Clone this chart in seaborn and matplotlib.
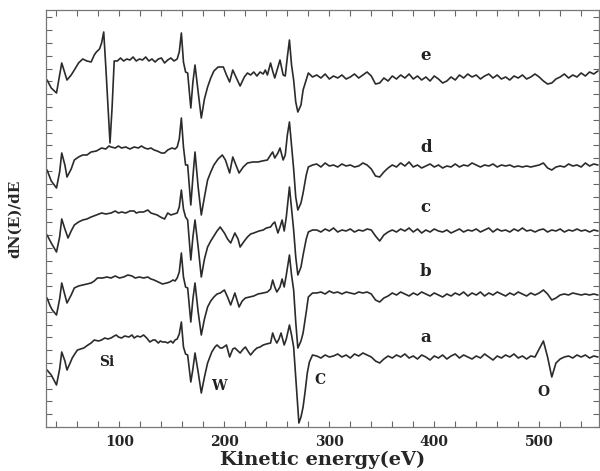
import matplotlib
matplotlib.use("Agg")
import matplotlib.pyplot as plt
import numpy as np
import pandas as pd
import seaborn as sns
from matplotlib.ticker import MultipleLocator, NullFormatter

# Auger spectra dN(E)/dE, arbitrary units
# low-energy part (Si, W, C region) per spectrum: energy (eV), signal
e_E = [31, 35, 40, 45, 50, 54, 57, 61, 65, 69, 73, 76, 78, 81, 83, 85, 87, 91, 93, 95,
       98, 101, 104, 107, 110, 113, 116, 119, 122, 125, 128, 131, 134, 137, 140, 143, 146, 149, 152, 155,
       157, 159, 161, 163, 165, 168, 170, 172, 175, 178, 181, 184, 187, 190, 194, 199, 202, 205, 208, 211,
       215, 219, 222, 225, 228, 231, 234, 237, 239, 241, 244, 246, 248, 251, 253, 256, 258, 260, 262, 264,
       266, 268, 270, 273, 275, 278, 280, 284]
e_val = [347, 339, 334, 364, 347, 352, 357, 364, 368, 366, 365, 372, 375, 378, 384, 395, 360, 284, 320, 366,
         366, 369, 366, 368, 367, 370, 366, 368, 367, 370, 366, 368, 365, 368, 369, 364, 367, 369, 366, 368,
         375, 394, 365, 355, 354, 319, 345, 362, 335, 309, 328, 340, 349, 356, 360, 360, 352, 345, 357, 350,
         341, 350, 354, 352, 355, 351, 355, 353, 357, 352, 364, 356, 349, 360, 367, 352, 351, 370, 387, 362,
         347, 325, 315, 322, 337, 347, 354, 350]

d_E = [31, 35, 40, 43, 45, 48, 50, 54, 57, 61, 65, 69, 73, 78, 83, 87, 90, 92, 96, 99,
       102, 106, 110, 114, 118, 121, 124, 127, 130, 133, 136, 140, 143, 146, 150, 153, 155, 157, 159, 161,
       163, 165, 168, 170, 172, 175, 178, 181, 184, 187, 190, 194, 198, 201, 205, 208, 211, 214, 218, 222,
       227, 232, 236, 241, 244, 246, 248, 251, 253, 256, 258, 260, 262, 264, 266, 268, 270, 273, 275, 278,
       280, 284]
d_val = [257, 246, 239, 255, 274, 262, 250, 258, 267, 270, 272, 272, 275, 276, 279, 278, 281, 280, 279, 281,
         279, 280, 278, 280, 279, 281, 279, 278, 279, 277, 276, 274, 274, 277, 279, 278, 280, 288, 309, 280,
         262, 262, 222, 250, 275, 240, 212, 230, 247, 255, 262, 268, 272, 267, 254, 270, 262, 254, 260, 264,
         265, 265, 266, 267, 272, 275, 269, 274, 279, 267, 272, 292, 305, 282, 258, 230, 217, 224, 234, 252,
         260, 262]

c_E = [31, 35, 40, 43, 45, 48, 51, 54, 57, 61, 65, 69, 73, 78, 83, 87, 92, 96, 99, 102,
       106, 110, 114, 116, 119, 123, 127, 130, 133, 136, 139, 143, 146, 149, 152, 155, 157, 159, 161, 163,
       165, 168, 170, 172, 175, 178, 181, 184, 187, 190, 193, 196, 200, 203, 206, 210, 213, 215, 219, 222,
       225, 228, 233, 237, 240, 244, 246, 248, 251, 253, 255, 257, 259, 262, 264, 266, 268, 270, 273, 275,
       278, 280, 284]
c_val = [192, 184, 175, 190, 208, 198, 189, 196, 202, 205, 207, 208, 210, 212, 214, 213, 214, 216, 214, 215,
         214, 216, 216, 214, 215, 215, 217, 214, 213, 212, 210, 208, 214, 212, 213, 214, 220, 237, 218, 210,
         207, 167, 190, 207, 180, 150, 168, 180, 186, 191, 196, 200, 194, 188, 184, 194, 188, 180, 186, 190,
         193, 194, 196, 197, 199, 200, 203, 205, 194, 200, 207, 196, 210, 240, 218, 197, 170, 152, 160, 172,
         188, 195, 197]

b_E = [31, 34, 36, 40, 43, 45, 48, 50, 54, 57, 61, 65, 69, 73, 76, 79, 84, 88, 92, 96,
       100, 104, 108, 112, 115, 119, 123, 127, 130, 133, 137, 141, 145, 148, 151, 153, 155, 157, 159, 161,
       163, 165, 168, 170, 172, 175, 178, 181, 184, 187, 190, 193, 196, 200, 203, 206, 210, 214, 217, 220,
       224, 228, 232, 237, 241, 244, 246, 248, 250, 253, 255, 257, 259, 262, 264, 266, 268, 270, 273, 275,
       278, 280, 284]
b_val = [129, 121, 117, 112, 128, 144, 132, 124, 132, 139, 141, 142, 143, 144, 146, 149, 149, 150, 149, 151,
         149, 150, 152, 151, 149, 150, 149, 150, 148, 147, 145, 143, 144, 145, 147, 146, 149, 155, 174, 150,
         140, 139, 105, 128, 144, 115, 92, 108, 120, 126, 130, 133, 134, 137, 130, 122, 134, 120, 126, 129,
         130, 131, 133, 134, 135, 138, 147, 140, 135, 140, 148, 140, 152, 172, 152, 137, 105, 79, 86, 94,
         115, 130, 134]

a_E = [31, 35, 38, 40, 43, 45, 48, 50, 53, 55, 58, 60, 63, 66, 70, 73, 76, 80, 83, 86,
       89, 92, 95, 97, 99, 102, 105, 109, 112, 114, 117, 120, 123, 126, 129, 132, 134, 137, 139, 141,
       144, 146, 149, 151, 153, 155, 157, 159, 161, 163, 165, 168, 170, 172, 175, 178, 181, 184, 188, 191,
       193, 196, 198, 202, 205, 208, 210, 213, 215, 218, 220, 223, 225, 228, 231, 234, 237, 240, 244, 246,
       248, 250, 252, 254, 257, 259, 262, 264, 266, 268, 271, 273, 275, 277, 279, 281, 284]
a_val = [57, 52, 46, 42, 58, 75, 66, 57, 64, 69, 74, 77, 78, 79, 82, 84, 87, 86, 87, 89,
         88, 89, 91, 92, 90, 89, 91, 90, 92, 89, 91, 90, 92, 89, 85, 87, 87, 84, 86, 85,
         85, 84, 86, 84, 87, 88, 93, 105, 80, 73, 72, 45, 58, 74, 55, 34, 50, 64, 75, 80,
         82, 79, 79, 82, 70, 78, 79, 76, 74, 78, 80, 75, 72, 76, 79, 80, 82, 83, 84, 94,
         88, 84, 88, 94, 82, 88, 102, 92, 80, 50, 4, 10, 20, 36, 54, 65, 72]

# high-energy part, common 4 eV grid 288..556 eV (O peak near 510 eV)
tail_E = list(range(288, 557, 4))
e_tail = [352, 349, 353, 348, 351, 349, 352, 348, 350, 353, 349, 352, 355, 351, 343, 344, 349, 346, 351, 348,
          352, 349, 353, 348, 351, 347, 350, 346, 351, 348, 344, 346, 350, 347, 352, 349, 353, 350, 352, 348,
          351, 353, 349, 352, 348, 350, 347, 351, 349, 352, 348, 350, 353, 350, 346, 343, 344, 348, 350, 353,
          349, 352, 350, 354, 351, 355, 353, 356]
d_tail = [263, 260, 264, 261, 262, 260, 263, 261, 262, 260, 261, 264, 262, 258, 251, 250, 255, 259, 262, 260,
          264, 261, 265, 260, 262, 259, 261, 263, 260, 262, 259, 261, 260, 263, 260, 262, 261, 264, 262, 260,
          262, 261, 263, 260, 262, 261, 262, 260, 261, 260, 261, 260, 261, 262, 264, 259, 257, 260, 261, 260,
          263, 261, 262, 260, 264, 261, 263, 262]
c_tail = [197, 195, 198, 196, 199, 195, 197, 196, 198, 195, 197, 196, 198, 197, 191, 186, 192, 195, 197, 195,
          198, 196, 199, 195, 198, 194, 197, 195, 198, 196, 195, 197, 194, 196, 198, 195, 197, 196, 198, 195,
          197, 199, 195, 198, 196, 197, 195, 198, 196, 199, 196, 197, 195, 197, 198, 195, 197, 196, 198, 195,
          197, 196, 198, 196, 197, 195, 197, 196]
b_tail = [134, 135, 133, 136, 134, 135, 133, 135, 134, 133, 135, 134, 135, 133, 127, 125, 129, 131, 134, 132,
          135, 133, 131, 134, 132, 135, 133, 131, 134, 132, 130, 133, 131, 134, 132, 135, 131, 134, 132, 135,
          131, 134, 132, 135, 133, 131, 134, 132, 135, 133, 131, 134, 132, 134, 137, 133, 127, 129, 132, 133,
          132, 134, 133, 132, 133, 132, 133, 132]
a_tail = [71, 69, 72, 70, 71, 73, 70, 72, 69, 73, 71, 74, 72, 70, 66, 64, 68, 71, 69, 72,
          70, 73, 69, 71, 68, 72, 70, 67, 71, 69, 72, 68, 71, 73, 69, 72, 70, 68, 71, 69,
          73, 70, 67, 71, 69, 72, 70, 73, 69, 71, 68, 71, 70, 78, 86, 70, 50, 64, 68, 70,
          71, 69, 72, 70, 72, 69, 71, 70]

names = ["e", "d", "c", "b", "a"]
low_E = [e_E, d_E, c_E, b_E, a_E]
low_val = [e_val, d_val, c_val, b_val, a_val]
tails = [e_tail, d_tail, c_tail, b_tail, a_tail]

frames = []
for n, E, v, t in zip(names, low_E, low_val, tails):
    frames.append(pd.DataFrame({"energy": E + tail_E, "signal": v + t, "sample": n}))
df = pd.concat(frames, ignore_index=True)

sns.set_style("ticks")
plt.rcParams["font.family"] = ["DejaVu Serif"]

fig = plt.figure(figsize=(6.0, 4.71), dpi=100)
ax = fig.add_axes([46 / 600, 44 / 471, 553 / 600, 417 / 471])

for n in names:
    sub = df[df["sample"] == n]
    sns.lineplot(data=sub, x="energy", y="signal", ax=ax, color="#2b2b2b",
                 lw=1.2, sort=False, estimator=None)

ax.set_xlim(30, 557)
ax.set_ylim(0, 417)

ax.xaxis.set_major_locator(MultipleLocator(100))
ax.xaxis.set_minor_locator(MultipleLocator(20))
ax.yaxis.set_major_locator(MultipleLocator(12.8))
ax.yaxis.set_major_formatter(NullFormatter())
ax.tick_params(which="both", direction="in", top=True, right=True,
               color="#666666", width=0.8)
ax.tick_params(which="major", axis="x", length=4, labelsize=10, pad=6)
ax.tick_params(which="minor", axis="x", length=4)
ax.tick_params(axis="y", length=4)
for lab in ax.get_xticklabels():
    lab.set_fontweight("bold")
for s in ax.spines.values():
    s.set_color("#777777")
    s.set_linewidth(0.9)

ax.set_xlabel("Kinetic energy(eV)", fontsize=14, fontweight="bold", labelpad=1)
ax.set_ylabel("dN(E)/dE", fontsize=11, fontweight="bold", labelpad=14)

# spectrum labels and element labels
label_v = [372, 280, 219, 155, 89]
for n, v in zip(names, label_v):
    ax.text(392, v, n, fontsize=12, fontweight="bold", ha="center", va="center", color="#222222")
ax.text(88, 65, "Si", fontsize=10, fontweight="bold", ha="center", va="center", color="#222222")
ax.text(195, 41, "W", fontsize=10, fontweight="bold", ha="center", va="center", color="#222222")
ax.text(291, 47, "C", fontsize=10, fontweight="bold", ha="center", va="center", color="#222222")
ax.text(504, 35, "O", fontsize=10, fontweight="bold", ha="center", va="center", color="#222222")

fig.savefig("out.png", dpi=100)
